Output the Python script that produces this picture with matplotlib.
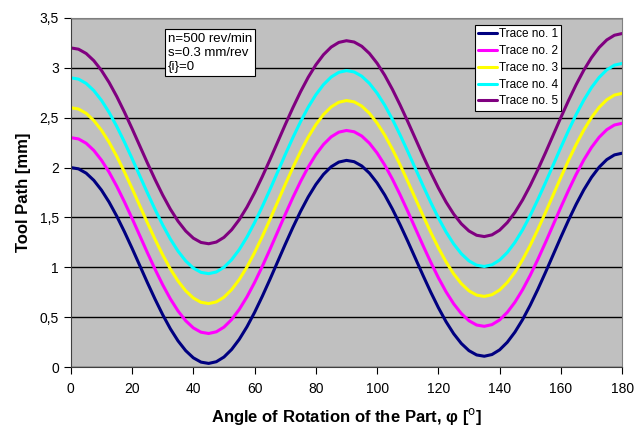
import matplotlib
matplotlib.use('Agg')
import matplotlib.pyplot as plt
import numpy as np
from matplotlib.ticker import FuncFormatter

plt.rcParams['font.family'] = ['Liberation Sans', 'DejaVu Sans']

# angle of rotation, degrees (one reading every 2.5 deg)
angle = np.arange(0, 180.1, 2.5)

# tool path values [mm]
trace1 = [2.000, 1.987, 1.944, 1.872, 1.774, 1.653, 1.512, 1.356, 1.190, 1.018, 0.846, 0.680,
          0.524, 0.383, 0.262, 0.164, 0.092, 0.049, 0.036, 0.053, 0.100, 0.176, 0.278, 0.403,
          0.548, 0.708, 0.878, 1.054, 1.230, 1.400, 1.560, 1.705, 1.830, 1.932, 2.008, 2.055,
          2.072, 2.059, 2.016, 1.944, 1.846, 1.725, 1.584, 1.428, 1.262, 1.090, 0.918, 0.752,
          0.596, 0.455, 0.334, 0.236, 0.164, 0.121, 0.108, 0.125, 0.172, 0.248, 0.350, 0.475,
          0.620, 0.780, 0.950, 1.126, 1.302, 1.472, 1.632, 1.777, 1.902, 2.004, 2.080, 2.127,
          2.144]
trace2 = [2.300, 2.287, 2.244, 2.172, 2.074, 1.953, 1.812, 1.656, 1.490, 1.318, 1.146, 0.980,
          0.824, 0.683, 0.562, 0.464, 0.392, 0.349, 0.336, 0.353, 0.400, 0.476, 0.578, 0.703,
          0.848, 1.008, 1.178, 1.354, 1.530, 1.700, 1.860, 2.005, 2.130, 2.232, 2.308, 2.355,
          2.372, 2.359, 2.316, 2.244, 2.146, 2.025, 1.884, 1.728, 1.562, 1.390, 1.218, 1.052,
          0.896, 0.755, 0.634, 0.536, 0.464, 0.421, 0.408, 0.425, 0.472, 0.548, 0.650, 0.775,
          0.920, 1.080, 1.250, 1.426, 1.602, 1.772, 1.932, 2.077, 2.202, 2.304, 2.380, 2.427,
          2.444]
trace3 = [2.600, 2.587, 2.544, 2.472, 2.374, 2.253, 2.112, 1.956, 1.790, 1.618, 1.446, 1.280,
          1.124, 0.983, 0.862, 0.764, 0.692, 0.649, 0.636, 0.653, 0.700, 0.776, 0.878, 1.003,
          1.148, 1.308, 1.478, 1.654, 1.830, 2.000, 2.160, 2.305, 2.430, 2.532, 2.608, 2.655,
          2.672, 2.659, 2.616, 2.544, 2.446, 2.325, 2.184, 2.028, 1.862, 1.690, 1.518, 1.352,
          1.196, 1.055, 0.934, 0.836, 0.764, 0.721, 0.708, 0.725, 0.772, 0.848, 0.950, 1.075,
          1.220, 1.380, 1.550, 1.726, 1.902, 2.072, 2.232, 2.377, 2.502, 2.604, 2.680, 2.727,
          2.744]
trace4 = [2.900, 2.887, 2.844, 2.772, 2.674, 2.553, 2.412, 2.256, 2.090, 1.918, 1.746, 1.580,
          1.424, 1.283, 1.162, 1.064, 0.992, 0.949, 0.936, 0.953, 1.000, 1.076, 1.178, 1.303,
          1.448, 1.608, 1.778, 1.954, 2.130, 2.300, 2.460, 2.605, 2.730, 2.832, 2.908, 2.955,
          2.972, 2.959, 2.916, 2.844, 2.746, 2.625, 2.484, 2.328, 2.162, 1.990, 1.818, 1.652,
          1.496, 1.355, 1.234, 1.136, 1.064, 1.021, 1.008, 1.025, 1.072, 1.148, 1.250, 1.375,
          1.520, 1.680, 1.850, 2.026, 2.202, 2.372, 2.532, 2.677, 2.802, 2.904, 2.980, 3.027,
          3.044]
trace5 = [3.200, 3.187, 3.144, 3.072, 2.974, 2.853, 2.712, 2.556, 2.390, 2.218, 2.046, 1.880,
          1.724, 1.583, 1.462, 1.364, 1.292, 1.249, 1.236, 1.253, 1.300, 1.376, 1.478, 1.603,
          1.748, 1.908, 2.078, 2.254, 2.430, 2.600, 2.760, 2.905, 3.030, 3.132, 3.208, 3.255,
          3.272, 3.259, 3.216, 3.144, 3.046, 2.925, 2.784, 2.628, 2.462, 2.290, 2.118, 1.952,
          1.796, 1.655, 1.534, 1.436, 1.364, 1.321, 1.308, 1.325, 1.372, 1.448, 1.550, 1.675,
          1.820, 1.980, 2.150, 2.326, 2.502, 2.672, 2.832, 2.977, 3.102, 3.204, 3.280, 3.327,
          3.344]

labels = ['Trace no. 1', 'Trace no. 2', 'Trace no. 3', 'Trace no. 4', 'Trace no. 5']
colors = ['#000080', '#FF00FF', '#FFFF00', '#00FFFF', '#800080']

fig = plt.figure(figsize=(6.44, 4.28), dpi=100)
ax = fig.add_axes([0.110, 0.1425, 0.856, 0.8155])
ax.set_facecolor('#C0C0C0')

for ys, lab, col in zip([trace1, trace2, trace3, trace4, trace5], labels, colors):
    ax.plot(angle, ys, color=col, linewidth=2.2, label=lab, solid_capstyle='round')

ax.set_xlim(0, 180)
ax.set_ylim(0, 3.5)
ax.set_xticks(range(0, 181, 20))
ax.set_yticks([0, 0.5, 1, 1.5, 2, 2.5, 3, 3.5])
ax.yaxis.set_major_formatter(FuncFormatter(lambda v, p: ('%g' % v).replace('.', ',')))
ax.grid(axis='y', color='black', linewidth=1)
ax.set_axisbelow(True)
ax.tick_params(direction='out', length=5, labelsize=10, colors='#000000')
ax.tick_params(axis='x', pad=6)

for s in ['top', 'right']:
    ax.spines[s].set_color('#808080')
for s in ['left', 'bottom']:
    ax.spines[s].set_color('#404040')

ax.set_xlabel('Angle of Rotation of the Part, \u03c6 [$^{\\mathrm{o}}$]', fontsize=12,
              fontweight='bold', labelpad=7)
ax.set_ylabel('Tool Path [mm]', fontsize=12, fontweight='bold')
ax.yaxis.set_label_coords(-0.073, 0.5)

ax.text(0.176, 0.958, 'n=500 rev/min\ns=0.3 mm/rev\n{i}=0', transform=ax.transAxes,
        fontsize=9.5, va='top', ha='left', linespacing=1.22,
        bbox=dict(boxstyle='square,pad=0.25', facecolor='white', edgecolor='black', linewidth=0.8))

leg = ax.legend(loc='upper left', bbox_to_anchor=(0.733, 0.98), fontsize=8.5, frameon=True,
                fancybox=False, edgecolor='black', framealpha=1, handlelength=1.6,
                handletextpad=0.1, borderpad=0.3, labelspacing=0.4, borderaxespad=0)
leg.get_frame().set_linewidth(0.8)

fig.savefig('out.png', dpi=100)
